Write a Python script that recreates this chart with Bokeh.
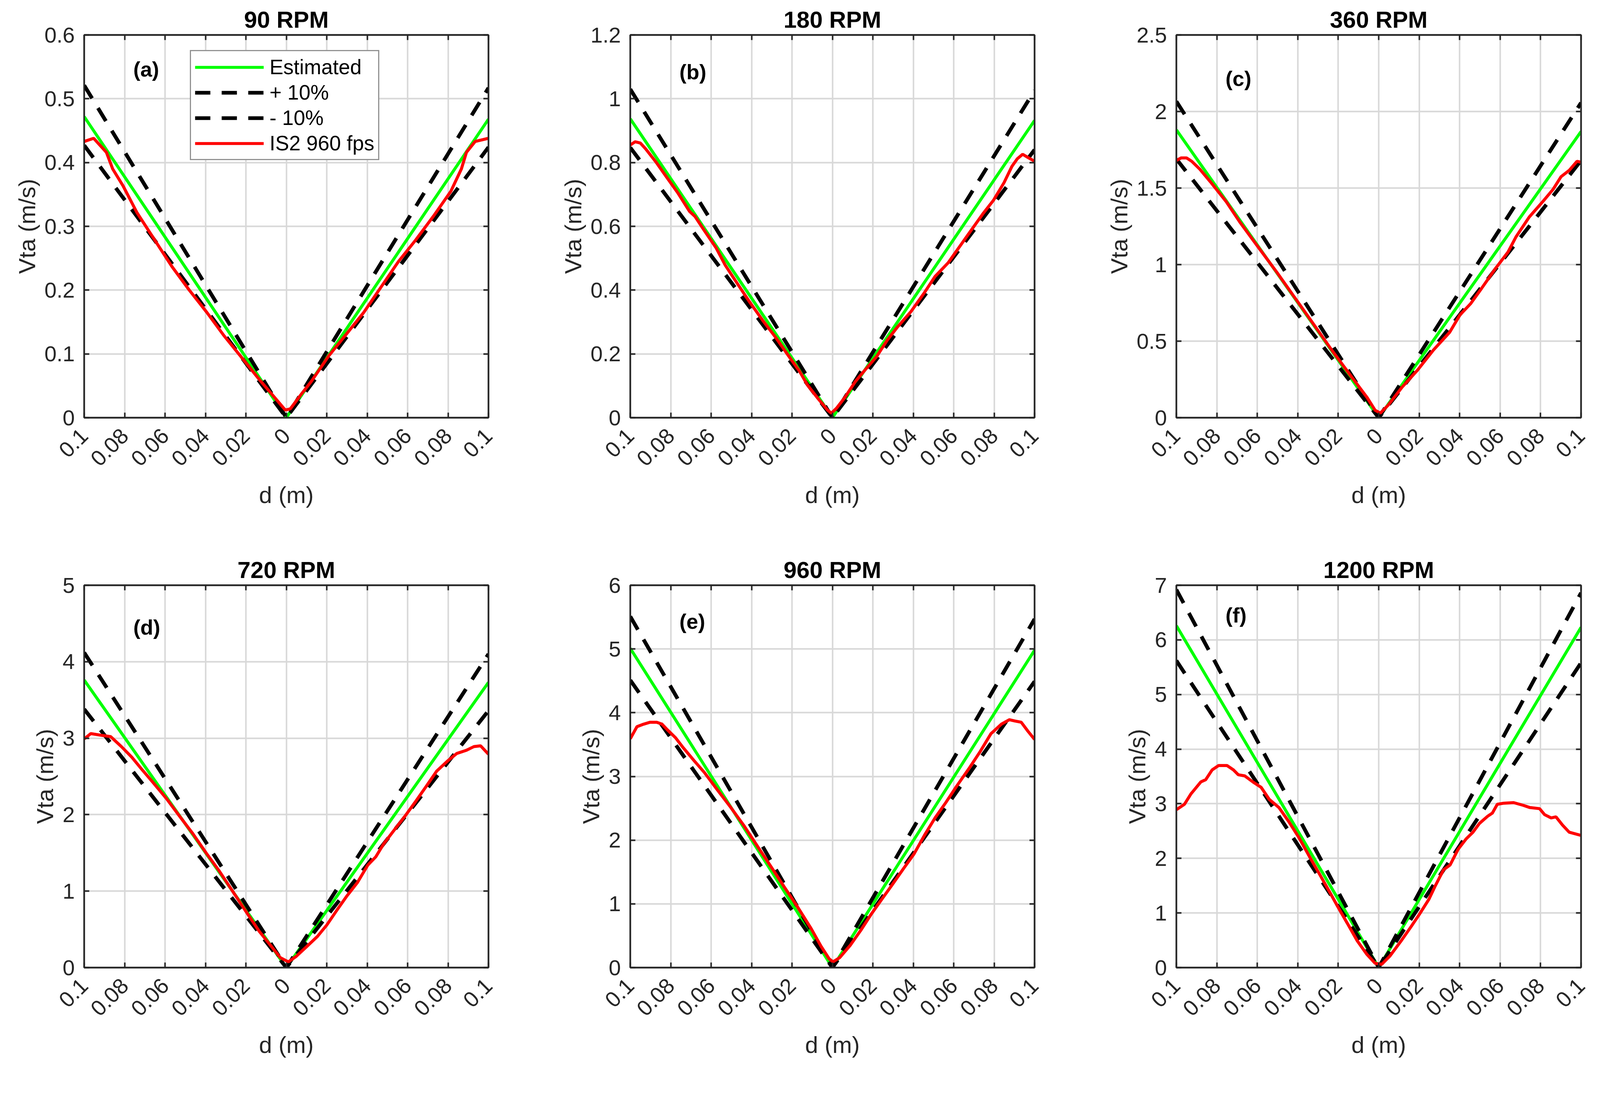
from bokeh.plotting import figure
from bokeh.models import Range1d, FixedTicker, LinearAxis, Label
from bokeh.layouts import gridplot
from bokeh.embed import file_html
from bokeh.resources import INLINE

# ------------------------------------------------------------------ data
titles = ["90 RPM", "180 RPM", "360 RPM", "720 RPM", "960 RPM", "1200 RPM"]
tags = ["(a)", "(b)", "(c)", "(d)", "(e)", "(f)"]
x_label = "d (m)"
y_label = "Vta (m/s)"
legend_labels = ["Estimated", "+ 10%", "- 10%", "IS2 960 fps"]

x_ticks = [-0.1, -0.08, -0.06, -0.04, -0.02, 0.0, 0.02, 0.04, 0.06, 0.08, 0.1]
x_tick_labels = ["0.1", "0.08", "0.06", "0.04", "0.02", "0", "0.02", "0.04", "0.06", "0.08", "0.1"]

y_ticks_a = [0, 0.1, 0.2, 0.3, 0.4, 0.5, 0.6]
y_labels_a = ["0", "0.1", "0.2", "0.3", "0.4", "0.5", "0.6"]
y_ticks_b = [0, 0.2, 0.4, 0.6, 0.8, 1.0, 1.2]
y_labels_b = ["0", "0.2", "0.4", "0.6", "0.8", "1", "1.2"]
y_ticks_c = [0, 0.5, 1.0, 1.5, 2.0, 2.5]
y_labels_c = ["0", "0.5", "1", "1.5", "2", "2.5"]
y_ticks_d = [0, 1, 2, 3, 4, 5]
y_labels_d = ["0", "1", "2", "3", "4", "5"]
y_ticks_e = [0, 1, 2, 3, 4, 5, 6]
y_labels_e = ["0", "1", "2", "3", "4", "5", "6"]
y_ticks_f = [0, 1, 2, 3, 4, 5, 6, 7]
y_labels_f = ["0", "1", "2", "3", "4", "5", "6", "7"]

# estimated / +10% / -10% (end, vertex, end)
d_ref = [-0.1, 0.0, 0.1]
est_a = [0.472, 0.0, 0.468]
plus_a = [0.521, 0.0, 0.517]
minus_a = [0.427, 0.0, 0.424]
est_b = [0.937, 0.0, 0.932]
plus_b = [1.030, 0.0, 1.026]
minus_b = [0.847, 0.0, 0.840]
est_c = [1.880, 0.0, 1.869]
plus_c = [2.066, 0.0, 2.057]
minus_c = [1.690, 0.0, 1.680]
est_d = [3.76, 0.0, 3.73]
plus_d = [4.12, 0.0, 4.10]
minus_d = [3.38, 0.0, 3.36]
est_e = [5.01, 0.0, 4.98]
plus_e = [5.51, 0.0, 5.47]
minus_e = [4.51, 0.0, 4.49]
est_f = [6.26, 0.0, 6.23]
plus_f = [6.92, 0.0, 6.86]
minus_f = [5.62, 0.0, 5.58]

# IS2 960 fps measurements
is2_x_a = [-0.1, -0.0953, -0.089, -0.0859, -0.0807, -0.0738, -0.0652, -0.0566, -0.048, -0.0393,
           -0.0307, -0.022, -0.0134, -0.0048, -0.0005, 0.002, 0.0072, 0.0124, 0.021, 0.0297,
           0.0383, 0.0469, 0.0555, 0.0641, 0.0728, 0.0814, 0.0866, 0.0891, 0.0934, 0.1]
is2_y_a = [0.433, 0.438, 0.416, 0.390, 0.363, 0.321, 0.279, 0.237, 0.200, 0.165,
           0.128, 0.094, 0.060, 0.028, 0.012, 0.014, 0.036, 0.057, 0.097, 0.131,
           0.165, 0.205, 0.245, 0.279, 0.316, 0.355, 0.390, 0.416, 0.433, 0.438]

is2_x_b = [-0.1, -0.0976, -0.095, -0.0924, -0.0871, -0.0819, -0.0766, -0.0707, -0.068, -0.0635,
           -0.0576, -0.053, -0.0477, -0.0412, -0.0346, -0.028, -0.0215, -0.0162, -0.0123, -0.007,
           -0.0024, -0.0005, 0.0022, 0.0061, 0.0114, 0.0166, 0.0219, 0.0271, 0.0324, 0.0389,
           0.0455, 0.0508, 0.0573, 0.0613, 0.0678, 0.0744, 0.0797, 0.0849, 0.0888, 0.0915,
           0.0941, 0.0967, 0.1]
is2_y_b = [0.855, 0.865, 0.861, 0.843, 0.800, 0.753, 0.706, 0.647, 0.631, 0.588,
           0.533, 0.478, 0.427, 0.365, 0.306, 0.251, 0.192, 0.145, 0.102, 0.059,
           0.024, 0.014, 0.031, 0.063, 0.114, 0.153, 0.192, 0.243, 0.286, 0.333,
           0.392, 0.443, 0.486, 0.522, 0.580, 0.639, 0.682, 0.737, 0.788, 0.812,
           0.826, 0.816, 0.804]

is2_x_c = [-0.1, -0.0976, -0.095, -0.0924, -0.0884, -0.0832, -0.0753, -0.0687, -0.0596, -0.0504,
           -0.0412, -0.032, -0.0228, -0.0136, -0.0057, -0.0018, 0.0008, 0.0047, 0.0114, 0.0192,
           0.0271, 0.035, 0.0402, 0.0455, 0.0508, 0.0573, 0.0639, 0.0678, 0.0744, 0.081,
           0.0862, 0.0901, 0.0941, 0.098, 0.1]
is2_y_c = [1.680, 1.697, 1.697, 1.675, 1.623, 1.541, 1.410, 1.279, 1.115, 0.951,
           0.779, 0.607, 0.434, 0.270, 0.131, 0.049, 0.030, 0.082, 0.197, 0.311,
           0.443, 0.557, 0.672, 0.746, 0.844, 0.967, 1.082, 1.180, 1.311, 1.410,
           1.492, 1.574, 1.615, 1.675, 1.669]

is2_x_d = [-0.1, -0.0967, -0.0921, -0.0869, -0.0816, -0.0764, -0.0711, -0.0659, -0.0593, -0.0528,
           -0.0462, -0.0397, -0.0331, -0.0266, -0.02, -0.0134, -0.0069, -0.003, 0.001, 0.0049,
           0.0102, 0.0154, 0.02, 0.0246, 0.0298, 0.0351, 0.0403, 0.0443, 0.0482, 0.0534,
           0.0587, 0.0639, 0.0692, 0.0744, 0.0797, 0.0843, 0.0889, 0.0928, 0.0961, 0.1]
is2_y_d = [2.99, 3.06, 3.04, 3.02, 2.89, 2.75, 2.58, 2.42, 2.21, 1.98,
           1.75, 1.50, 1.26, 1.00, 0.735, 0.474, 0.261, 0.131, 0.075, 0.147,
           0.278, 0.408, 0.556, 0.735, 0.931, 1.11, 1.34, 1.45, 1.62, 1.80,
           1.98, 2.17, 2.37, 2.57, 2.70, 2.80, 2.84, 2.89, 2.90, 2.79]

is2_x_e = [-0.1, -0.0967, -0.0934, -0.0902, -0.0869, -0.0843, -0.0816, -0.0777, -0.0738, -0.0685,
           -0.0633, -0.0567, -0.0502, -0.0436, -0.037, -0.0305, -0.0239, -0.0174, -0.0108, -0.0056,
           -0.0016, 0.0003, 0.0036, 0.0089, 0.0141, 0.0193, 0.0246, 0.0298, 0.0351, 0.0403,
           0.0456, 0.0508, 0.0561, 0.0613, 0.0679, 0.0731, 0.0784, 0.0836, 0.0875, 0.0902,
           0.0934, 0.0967, 0.1]
is2_y_e = [3.59, 3.78, 3.82, 3.85, 3.85, 3.82, 3.73, 3.61, 3.45, 3.25,
           3.06, 2.78, 2.51, 2.22, 1.90, 1.59, 1.27, 0.96, 0.627, 0.333,
           0.137, 0.09, 0.157, 0.353, 0.588, 0.843, 1.08, 1.31, 1.55, 1.78,
           2.08, 2.35, 2.59, 2.84, 3.14, 3.39, 3.67, 3.82, 3.89, 3.87,
           3.85, 3.71, 3.58]

is2_x_f = [-0.1, -0.096, -0.0928, -0.0879, -0.0855, -0.0823, -0.0791, -0.075, -0.0718, -0.0694,
           -0.0662, -0.0622, -0.0581, -0.0541, -0.0493, -0.0444, -0.0396, -0.0348, -0.03, -0.0251,
           -0.0203, -0.0155, -0.0106, -0.0058, -0.0018, 0.0015, 0.0055, 0.0111, 0.016, 0.020,
           0.0248, 0.028, 0.032, 0.0353, 0.0393, 0.0433, 0.0466, 0.0498, 0.0538, 0.0562,
           0.0586, 0.0618, 0.0667, 0.0715, 0.0747, 0.0795, 0.082, 0.0852, 0.0876, 0.0908,
           0.0941, 0.1]
is2_y_f = [2.89, 2.99, 3.18, 3.40, 3.44, 3.62, 3.70, 3.70, 3.62, 3.53,
           3.51, 3.40, 3.30, 3.08, 2.93, 2.67, 2.39, 2.07, 1.76, 1.44,
           1.12, 0.81, 0.49, 0.24, 0.08, 0.06, 0.21, 0.49, 0.75, 0.97,
           1.25, 1.50, 1.79, 1.88, 2.17, 2.36, 2.48, 2.64, 2.77, 2.83,
           2.99, 3.01, 3.02, 2.97, 2.93, 2.91, 2.80, 2.74, 2.76, 2.61,
           2.48, 2.42]

y_max = [0.6, 1.2, 2.5, 5, 6, 7]

# ------------------------------------------------------------------ style / layout
S = 0.967                      # css-px scale so the page lands on the photographed size


def px(v):
    return int(round(v * S))


def fs(v):
    return "%dpx" % px(v)


FONT = "Liberation Sans"
AX = "#262626"
COL_W = [px(1446), px(1446), px(1340)]
ROW_H = [px(1457), px(1355)]
BL, BT = px(222), px(92)
BR = [px(153), px(153), px(47)]
BB = [px(352), px(250)]
GREEN, RED, BLACK = "#00ff00", "#ff0000", "#000000"
DASH = "%d %d" % (px(40), px(30))
tag_fracs = [0.911, 0.904, 0.886, 0.890, 0.906, 0.922]   # fraction of y range for panel tag
tag_x = -0.0757

panels = [
    (y_ticks_a, y_labels_a, est_a, plus_a, minus_a, is2_x_a, is2_y_a),
    (y_ticks_b, y_labels_b, est_b, plus_b, minus_b, is2_x_b, is2_y_b),
    (y_ticks_c, y_labels_c, est_c, plus_c, minus_c, is2_x_c, is2_y_c),
    (y_ticks_d, y_labels_d, est_d, plus_d, minus_d, is2_x_d, is2_y_d),
    (y_ticks_e, y_labels_e, est_e, plus_e, minus_e, is2_x_e, is2_y_e),
    (y_ticks_f, y_labels_f, est_f, plus_f, minus_f, is2_x_f, is2_y_f),
]


def style_axis(ax, ticker, labels_map, show_labels=True):
    ax.ticker = ticker
    ax.axis_line_color = AX
    ax.axis_line_width = 4 * S
    ax.major_tick_in = px(13)
    ax.major_tick_out = 0
    ax.major_tick_line_color = AX
    ax.major_tick_line_width = 4 * S
    ax.minor_tick_line_color = None
    ax.major_label_overrides = labels_map
    if show_labels:
        ax.major_label_text_font = FONT
        ax.major_label_text_font_size = fs(58)
        ax.major_label_text_color = AX
    else:
        ax.major_label_text_font_size = "1px"
        ax.major_label_text_alpha = 0
        ax.major_label_standoff = 0


figs = []
for i, (yt, yl, est, plus, minus, rx, ry) in enumerate(panels):
    col = i % 3
    row = i // 3
    p = figure(width=COL_W[col], height=ROW_H[row],
               x_range=Range1d(-0.1, 0.1), y_range=Range1d(0, y_max[i]),
               output_backend="svg", toolbar_location=None,
               min_border_left=BL, min_border_right=BR[col],
               min_border_top=BT, min_border_bottom=BB[row],
               background_fill_color="white", border_fill_color="white")
    p.outline_line_color = AX
    p.outline_line_width = 4 * S

    xt = FixedTicker(ticks=x_ticks)
    ytk = FixedTicker(ticks=yt)
    style_axis(p.xaxis[0], xt, dict(zip(x_ticks, x_tick_labels)))
    style_axis(p.yaxis[0], ytk, dict(zip(yt, yl)))
    p.xaxis[0].major_label_orientation = 0.785398
    p.xaxis[0].major_label_standoff = px(38)
    p.yaxis[0].major_label_standoff = px(25)

    for ax, lab in ((p.xaxis[0], x_label), (p.yaxis[0], y_label)):
        ax.axis_label = lab
        ax.axis_label_text_font = FONT
        ax.axis_label_text_font_size = fs(62)
        ax.axis_label_text_font_style = "normal"
        ax.axis_label_text_color = AX
    p.xaxis[0].axis_label_standoff = px(22)
    p.yaxis[0].axis_label_standoff = px(8)

    top = LinearAxis()
    style_axis(top, FixedTicker(ticks=x_ticks), {t: "" for t in x_ticks}, show_labels=False)
    p.add_layout(top, "above")
    right = LinearAxis()
    style_axis(right, FixedTicker(ticks=yt), {t: "" for t in yt}, show_labels=False)
    p.add_layout(right, "right")

    p.xgrid.ticker = xt
    p.ygrid.ticker = ytk
    for g in (p.xgrid[0], p.ygrid[0]):
        g.grid_line_color = "#d8d8d8"
        g.grid_line_width = 4 * S

    p.title.text = titles[i]
    p.title.align = "center"
    p.title.text_font = FONT
    p.title.text_font_size = fs(62)
    p.title.text_font_style = "bold"
    p.title.text_color = "black"
    p.title.standoff = px(12)

    lw_solid, lw_dash = 8 * S, 10 * S
    if i == 0:
        p.line(d_ref, est, line_color=GREEN, line_width=lw_solid, legend_label=legend_labels[0])
        p.line(d_ref, plus, line_color=BLACK, line_width=lw_dash, line_dash=DASH, legend_label=legend_labels[1])
        p.line(d_ref, minus, line_color=BLACK, line_width=lw_dash, line_dash=DASH, legend_label=legend_labels[2])
        p.line(rx, ry, line_color=RED, line_width=lw_solid, legend_label=legend_labels[3])
        leg = p.legend[0]
        leg.location = (px(280), px(681))
        leg.glyph_width = px(182)
        leg.glyph_height = px(60)
        leg.label_height = px(60)
        leg.label_standoff = px(15)
        leg.spacing = px(4)
        leg.padding = px(10)
        leg.margin = 0
        leg.label_text_font = FONT
        leg.label_text_font_size = fs(55)
        leg.label_text_color = "black"
        leg.border_line_color = AX
        leg.border_line_width = 4 * S
        leg.background_fill_color = "white"
        leg.background_fill_alpha = 1.0
    else:
        p.line(d_ref, est, line_color=GREEN, line_width=lw_solid)
        p.line(d_ref, plus, line_color=BLACK, line_width=lw_dash, line_dash=DASH)
        p.line(d_ref, minus, line_color=BLACK, line_width=lw_dash, line_dash=DASH)
        p.line(rx, ry, line_color=RED, line_width=lw_solid)

    p.add_layout(Label(x=tag_x, y=y_max[i] * tag_fracs[i], text=tags[i],
                       text_font=FONT, text_font_size=fs(56), text_font_style="bold",
                       text_color="black", text_baseline="middle", text_align="left"))
    figs.append(p)

grid = gridplot([figs[:3], figs[3:]], toolbar_location=None)
open("out.html", "w").write(file_html(grid, INLINE))
